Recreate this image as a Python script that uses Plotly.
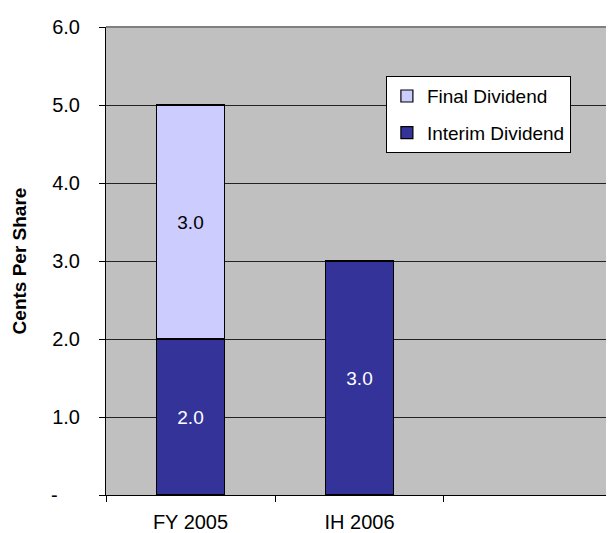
import plotly.graph_objects as go

categories = ["FY 2005", "IH 2006"]
interim = [2.0, 3.0]
final = [3.0, None]
ytick_vals = [0, 1, 2, 3, 4, 5, 6]
ytick_labels = ["-", "1.0", "2.0", "3.0", "4.0", "5.0", "6.0"]

FONT = "Liberation Sans, Arial, sans-serif"
FS = 20

fig = go.Figure()
fig.add_trace(go.Bar(
    x=categories, y=interim, name="Interim Dividend",
    marker=dict(color="#333399", line=dict(color="black", width=1.2)),
    text=[f"{v:.1f}" for v in interim], textposition="inside",
    insidetextanchor="middle", textfont=dict(color="white", size=19, family=FONT),
    legendgroup="a", legendrank=2, width=0.4,
))
fig.add_trace(go.Bar(
    x=categories, y=final, name="Final Dividend",
    marker=dict(color="#CCCCFF", line=dict(color="black", width=1.2)),
    text=[f"{v:.1f}" if v is not None else "" for v in final], textposition="inside",
    insidetextanchor="middle", textfont=dict(color="black", size=19, family=FONT),
    legendgroup="b", legendrank=1, width=0.4,
))

disp_labels = [ytick_labels[0] + "\u00a0" * 4] + ytick_labels[1:]

# page has an 8px body margin; keep the figure inside the window
fig.update_layout(
    barmode="stack",
    width=606, height=525,
    margin=dict(l=98, r=0, t=19, b=38),
    paper_bgcolor="white",
    plot_bgcolor="#C0C0C0",
    font=dict(family=FONT, size=FS, color="black"),
    showlegend=True,
    legend=dict(
        x=0.551, y=0.895, xanchor="left", yanchor="top",
        bgcolor="white", bordercolor="black", borderwidth=1,
        traceorder="grouped", tracegroupgap=9,
        font=dict(size=19, family=FONT),
        itemwidth=30,
    ),
    uniformtext=dict(minsize=10, mode="show"),
    shapes=[dict(type="line", xref="paper", yref="paper", x0=0, x1=1, y0=1, y1=1,
                 line=dict(color="#808080", width=2), layer="above")],
)
fig.update_xaxes(
    type="category", range=[-0.5, 2.506], automargin=False,
    tickson="boundaries", ticks="outside", ticklen=6, tickcolor="black",
    showline=True, linecolor="black", linewidth=1,
    showgrid=False, zeroline=False, ticklabelstandoff=9,
    tickfont=dict(size=FS),
)
fig.update_yaxes(
    range=[0, 6], tickvals=ytick_vals, ticktext=disp_labels, automargin=False,
    ticks="outside", ticklen=6, tickcolor="black",
    showline=True, linecolor="black", linewidth=1,
    showgrid=True, gridcolor="#222222", gridwidth=1,
    zeroline=False, tickfont=dict(size=FS), ticklabelstandoff=15,
    title=dict(text="<b>Cents Per Share</b>", font=dict(size=19), standoff=19),
)
fig.write_html("out.html")
